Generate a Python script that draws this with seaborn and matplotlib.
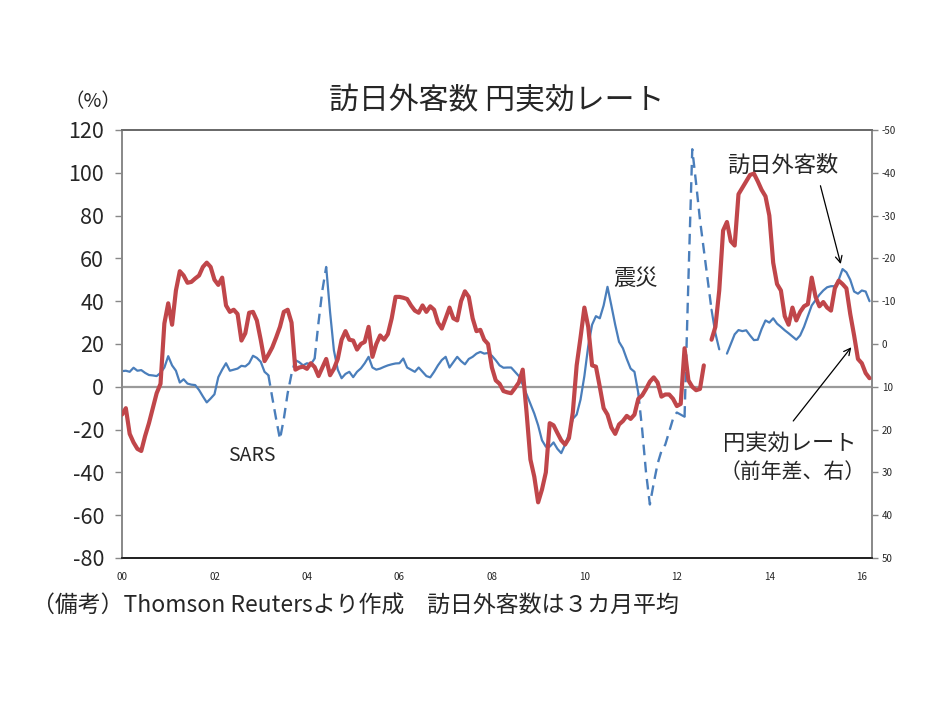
import numpy as np
import pandas as pd
import matplotlib
matplotlib.use("Agg")
import matplotlib.pyplot as plt
import seaborn as sns

# ---------------- data (monthly, Jan 2000 - Mar 2016) ----------------
start_month = "2000-01"
n_months = 195

# 訪日外客数 (3ヶ月平均, 前年比 %), left axis
visitors = [
    7.3, 7.5, 7.0, 8.9, 7.5, 7.8, 6.5, 5.5, 5.3, 5.0,
    6.5, 9.0, 14.3, 10.0, 7.5, 2.0, 3.5, 1.5, 1.0, 0.8,
    -1.5, -4.5, -7.3, -5.5, -3.5, 4.5, 8.0, 11.0, 7.5, 8.0,
    8.5, 9.8, 9.5, 11.0, 14.5, 13.5, 11.7, 7.0, 5.4, -5.0,
    -15.0, -24.5, -15.0, -3.0, 6.0, 12.4, 11.5, 10.0, 11.0, 10.5,
    13.2, 30.0, 45.0, 56.0, 35.0, 17.0, 8.0, 4.0, 6.0, 7.0,
    4.5, 7.0, 8.6, 11.0, 14.0, 9.0, 8.0, 8.5, 9.3, 10.0,
    10.5, 10.9, 11.0, 13.2, 9.0, 8.0, 7.0, 9.0, 7.0, 5.0,
    4.4, 7.0, 10.0, 12.5, 14.0, 9.0, 11.5, 14.0, 12.0, 10.5,
    13.0, 14.0, 15.5, 16.3, 15.5, 15.8, 14.5, 12.4, 10.0, 8.9,
    9.0, 9.0, 7.0, 5.0, 1.0, -3.5, -8.0, -12.5, -18.0, -25.0,
    -28.0, -28.0, -26.0, -29.0, -31.0, -27.0, -22.0, -15.0, -13.0, -6.0,
    5.0, 19.0, 29.0, 33.0, 32.0, 38.0, 46.7, 38.0, 29.0, 21.0,
    18.0, 13.0, 8.5, 7.0, -3.0, -20.0, -40.0, -55.0, -45.0, -36.0,
    -30.0, -27.0, -21.0, -15.0, -12.0, -13.0, -14.0, 50.0, 111.0, 95.0,
    78.0, 64.0, 50.0, 36.0, 25.0, 17.5, np.nan, 15.5, 20.0, 24.5,
    26.5, 26.0, 26.4, 24.0, 21.8, 22.0, 27.0, 31.0, 30.0, 32.0,
    29.5, 28.0, 26.4, 25.0, 23.5, 22.0, 24.0, 28.0, 33.0, 38.0,
    40.5, 43.0, 45.0, 46.5, 47.0, 47.0, 50.0, 55.0, 53.5, 50.0,
    44.5, 43.5, 45.0, 44.5, 40.0,
]
# month indices (start, end) of the dashed (irregular) stretches of the visitor line
visitor_dashed_spans = [(38, 45), (50, 53), (134, 144), (146, 153)]

# 円実効レート (前年差, right axis, inverted)
yen_reer = [
    16.5, 15.0, 21.0, 23.0, 24.5, 25.0, 21.5, 18.5, 15.0, 11.5,
    9.3, -4.8, -9.5, -4.5, -12.5, -17.0, -16.0, -14.3, -14.5, -15.3,
    -16.0, -18.0, -19.0, -18.0, -15.0, -13.8, -15.5, -9.0, -7.5, -8.0,
    -7.0, -0.8, -2.5, -7.3, -7.5, -5.5, -1.0, 4.0, 2.5, 0.8,
    -1.5, -4.0, -7.5, -8.0, -5.0, 6.0, 5.5, 5.3, 5.8, 4.5,
    5.4, 7.5, 5.5, 3.5, 7.3, 5.8, 3.5, -1.0, -3.0, -1.0,
    -0.8, 1.3, 0.0, -0.5, -4.0, 3.0, 0.0, -2.0, -1.0, -2.3,
    -6.0, -11.0, -11.0, -10.8, -10.5, -9.0, -7.8, -7.3, -9.0, -7.5,
    -8.8, -8.0, -5.0, -3.6, -6.0, -8.5, -6.0, -5.5, -10.0, -12.3,
    -11.0, -6.0, -3.0, -3.3, -1.0, 0.0, 5.5, 8.5, 9.3, 11.0,
    11.3, 11.5, 10.3, 9.0, 6.0, 16.0, 27.0, 31.0, 37.0, 34.0,
    30.0, 18.5, 19.0, 20.8, 22.5, 23.5, 22.0, 16.0, 5.0, -1.5,
    -8.5, -4.0, 5.0, 5.3, 10.0, 15.0, 16.5, 19.5, 21.0, 18.8,
    18.0, 16.8, 17.5, 16.5, 12.8, 12.0, 10.5, 8.8, 7.8, 9.0,
    12.3, 11.8, 11.8, 12.8, 14.5, 14.0, 1.0, 8.5, 10.0, 10.8,
    10.5, 5.0, np.nan, -1.0, -4.0, -12.5, -26.5, -28.5, -24.0, -23.0,
    -35.0, -36.5, -38.0, -39.5, -39.8, -38.0, -36.0, -34.5, -30.0, -19.0,
    -14.0, -12.5, -6.5, -4.5, -8.5, -5.5, -7.5, -8.8, -9.3, -15.5,
    -11.0, -8.8, -9.8, -8.5, -7.8, -13.0, -14.8, -14.0, -13.0, -7.0,
    -2.0, 3.5, 4.5, 6.8, 8.0,
]

year_ticks = [2000, 2002, 2004, 2006, 2008, 2010, 2012, 2014, 2016]
year_labels = ["00", "02", "04", "06", "08", "10", "12", "14", "16"]
left_ticks = [-80, -60, -40, -20, 0, 20, 40, 60, 80, 100, 120]
right_ticks = [-50, -40, -30, -20, -10, 0, 10, 20, 30, 40, 50]

title = "訪日外客数 円実効レート"
note = "（備考）Thomson Reutersより作成　訪日外客数は３カ月平均"

# ---------------- build table ----------------
dates = pd.period_range(start_month, periods=n_months, freq="M")
xyear = dates.year + (dates.month - 1) / 12.0
df = pd.DataFrame({"x": xyear, "visitors": visitors, "reer": yen_reer})

dashed_mask = np.zeros(len(df), bool)
for a, b in visitor_dashed_spans:
    dashed_mask[a:b + 1] = True
solid_mask = np.ones(len(df), bool)
for a, b in visitor_dashed_spans:
    solid_mask[a + 1:b] = False


def runs(mask, values):
    """split into contiguous runs where mask is True and value is finite"""
    ok = mask & np.isfinite(values)
    seg = np.full(len(ok), -1)
    s = -1
    prev = False
    for i, v in enumerate(ok):
        if v and not prev:
            s += 1
        if v:
            seg[i] = s
        prev = v
    return seg


df["seg_solid"] = runs(solid_mask, df["visitors"].to_numpy())
df["seg_dash"] = runs(dashed_mask, df["visitors"].to_numpy())
df["seg_reer"] = runs(np.ones(len(df), bool), df["reer"].to_numpy())

# ---------------- plot ----------------
jp = ["Noto Sans CJK JP", "DejaVu Sans"]
sns.set_theme(style="white")
plt.rcParams["font.family"] = jp

fig = plt.figure(figsize=(9.34, 7.01), dpi=100)
ax = fig.add_axes([0.1306, 0.204, 0.803, 0.6106])

blue = "#4A7EBB"
red = "#C0464A"

ax.axhline(0, color="#9a9a9a", lw=1.6, zorder=1)

sol = df[df["seg_solid"] >= 0]
sns.lineplot(data=sol, x="x", y="visitors", units="seg_solid", estimator=None,
             color=blue, lw=1.6, ax=ax, zorder=3, legend=False)
das = df[df["seg_dash"] >= 0]
for s, g in das.groupby("seg_dash"):
    sns.lineplot(data=g, x="x", y="visitors", color=blue, lw=1.7, ax=ax,
                 zorder=3, legend=False, estimator=None)
    ax.lines[-1].set_dashes((4.5, 2.8))

ax.set_xlim(2000, 2016.22)
ax.set_ylim(-80, 120)
ax.set_yticks(left_ticks)
ax.set_yticklabels([str(v) for v in left_ticks], fontsize=15.5)
ax.set_xticks(year_ticks)
ax.set_xticklabels(year_labels, fontsize=7)
ax.set_xlabel("")
ax.set_ylabel("")
ax.tick_params(axis="y", which="both", left=True, length=5, width=1,
               color="#888888", pad=8)
ax.tick_params(axis="x", bottom=False, pad=4)

ax2 = ax.twinx()
rr = df[df["seg_reer"] >= 0]
sns.lineplot(data=rr, x="x", y="reer", units="seg_reer", estimator=None,
             color=red, lw=3.0, ax=ax2, zorder=4, legend=False)
ax2.set_ylim(50, -50)
ax2.set_yticks(right_ticks)
ax2.set_yticklabels([str(v) for v in right_ticks], fontsize=7)
ax2.set_ylabel("")
ax2.tick_params(axis="y", right=True, length=4, width=1, color="#888888", pad=3)
ax2.set_xlim(2000, 2016.22)

for a in (ax, ax2):
    a.spines["left"].set_color("#8a8a8a")
    a.spines["right"].set_color("#8a8a8a")
    a.spines["top"].set_color("#6a6a6a")
    a.spines["bottom"].set_color("#222222")
    for sp in a.spines.values():
        sp.set_linewidth(1.3)
    a.grid(False)

# texts
fig.text(0.532, 0.857, title, ha="center", va="center", fontsize=21.5, family=jp)
fig.text(0.100, 0.855, "（%）", ha="center", va="center", fontsize=14, family=jp)
fig.text(0.034, 0.135, note, ha="left", va="center", fontsize=16.5, family=jp)

ax.text(2002.81, -31.9, "SARS", ha="center", va="center", fontsize=14)
ax.text(2011.11, 50.8, "震災", ha="center", va="center", fontsize=16)
ax.text(2014.29, 103.6, "訪日外客数", ha="center", va="center", fontsize=16)
ax.annotate("", xy=(2015.56, 56.1), xytext=(2015.09, 95.2),
            arrowprops=dict(arrowstyle="->", color="black", lw=0.9))
ax.text(2014.44, -26.3, "円実効レート", ha="center", va="center", fontsize=16)
ax.text(2014.51, -39.8, "（前年差、右）", ha="center", va="center", fontsize=15)
ax.annotate("", xy=(2015.81, 19.5), xytext=(2014.48, -17.0),
            arrowprops=dict(arrowstyle="->", color="black", lw=0.9),
            zorder=6)

fig.savefig("out.png", dpi=100)
